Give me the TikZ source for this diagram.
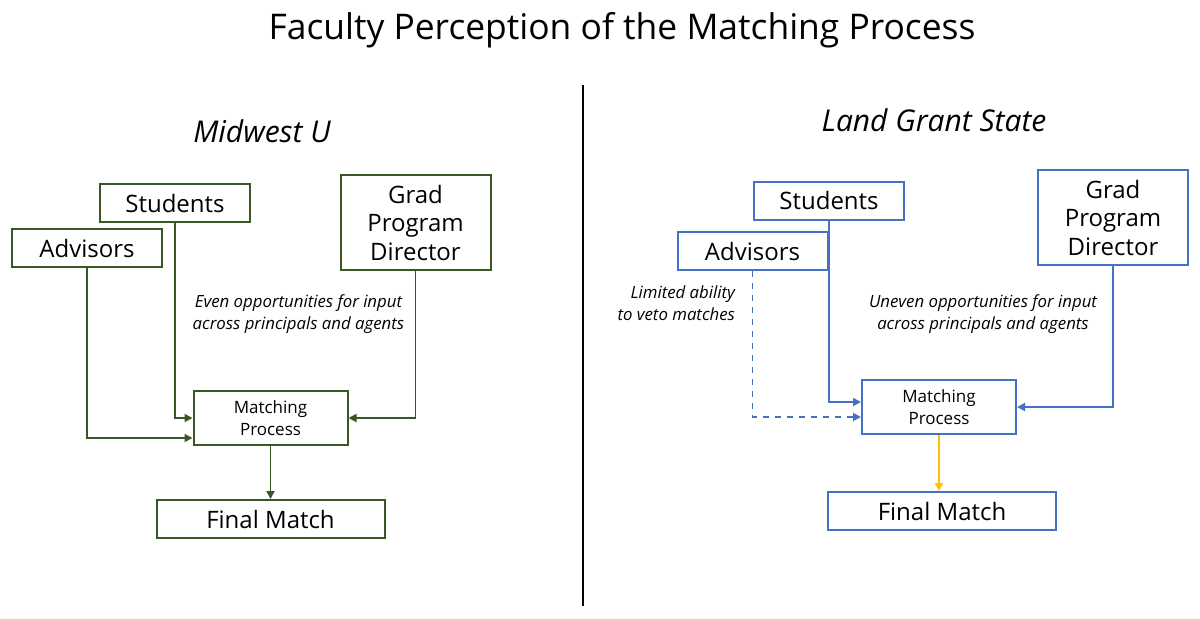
\documentclass[tikz,border=0pt]{standalone}
\usepackage{fontspec}
\setmainfont{Open Sans}
\usetikzlibrary{positioning, arrows.meta, calc}
\definecolor{midwestGreen}{RGB}{56,87,35}
\definecolor{landBlue}{RGB}{68,114,196}
\definecolor{matchYellow}{RGB}{255,192,0}
\tikzset{
	agentbox/.style={rectangle, line width=1pt, fill=white, inner sep=0pt,
		minimum width=75pt, minimum height=19pt,
		align=center, font=\fontsize{12}{14.25}\selectfont},
	greenbox/.style={agentbox, draw=midwestGreen},
	bluebox/.style={agentbox, draw=landBlue},
	dirbox/.style={minimum height=47.5pt},
	matchbox/.style={minimum width=77pt, minimum height=27pt,
		font=\fontsize{8.5}{11}\selectfont},
	finalbox/.style={minimum width=114pt},
	greenarr/.style={-{Triangle[length=4pt, width=4pt]}, line width=0.9pt, draw=midwestGreen},
	bluearr/.style={-{Triangle[length=4pt, width=4pt]}, line width=0.9pt, draw=landBlue},
	notetext/.style={font=\fontsize{8.4}{11}\selectfont\itshape, align=center},
	campus/.style={font=\fontsize{15}{18}\selectfont\itshape}
}

\begin{document}
\begin{tikzpicture}[x=0.5pt, y=-0.5pt]
	\useasboundingbox (0,0) rectangle (1200,618);
	\node[font=\fontsize{17.7}{20}\selectfont] (title) at (622,30) {Faculty Perception of the Matching Process};
	\draw[line width=1pt] (583,85) -- (583,606);

	% Midwest U
	\node[campus] (mwu) at (262,131) {Midwest U};
	\node[greenbox] (lstu) at (175,203) {Students};
	\node[greenbox] (ladv) at (87,248) {Advisors};
	\node[greenbox, dirbox] (ldir) at (415.5,222.5) {Grad\\Program\\Director};
	\node[greenbox, matchbox] (lmat) at (270.5,418) {Matching\\Process};
	\node[greenbox, finalbox] (lfin) at (270.5,519) {Final Match};
	\node[notetext] (leven) at (298.5,314) {Even opportunities for input\\across principals and agents};
	\draw[greenarr] (lstu.south) |- (lmat.west);
	\draw[greenarr] (ladv.south) |- ([yshift=-10pt]lmat.west);
	\draw[greenarr] (ldir.south) |- (lmat.east);
	\draw[greenarr] (lmat.south) -- (lfin.north);

	% Land Grant State
	\node[campus] (lgs) at (934,120) {Land Grant State};
	\node[bluebox] (rstu) at (829,200.5) {Students};
	\node[bluebox] (radv) at (752.5,251) {Advisors};
	\node[bluebox, dirbox] (rdir) at (1113,217.5) {Grad\\Program\\Director};
	\node[bluebox, matchbox] (rmat) at (939,407) {Matching\\Process};
	\node[bluebox, finalbox] (rfin) at (942,511) {Final Match};
	\node[notetext, align=right, anchor=east] (rveto) at (742,303.5) {Limited ability\\to veto matches};
	\node[notetext] (runeven) at (983,314) {Uneven opportunities for input\\across principals and agents};
	\draw[bluearr] (rstu.south) |- ([yshift=2.5pt]rmat.west);
	\draw[bluearr, dashed] (radv.south) |- ([yshift=-5pt]rmat.west);
	\draw[bluearr] (rdir.south) |- (rmat.east);
	\draw[bluearr, draw=matchYellow] (rmat.south) -- (rmat.south |- rfin.north);
\end{tikzpicture}
\end{document}
